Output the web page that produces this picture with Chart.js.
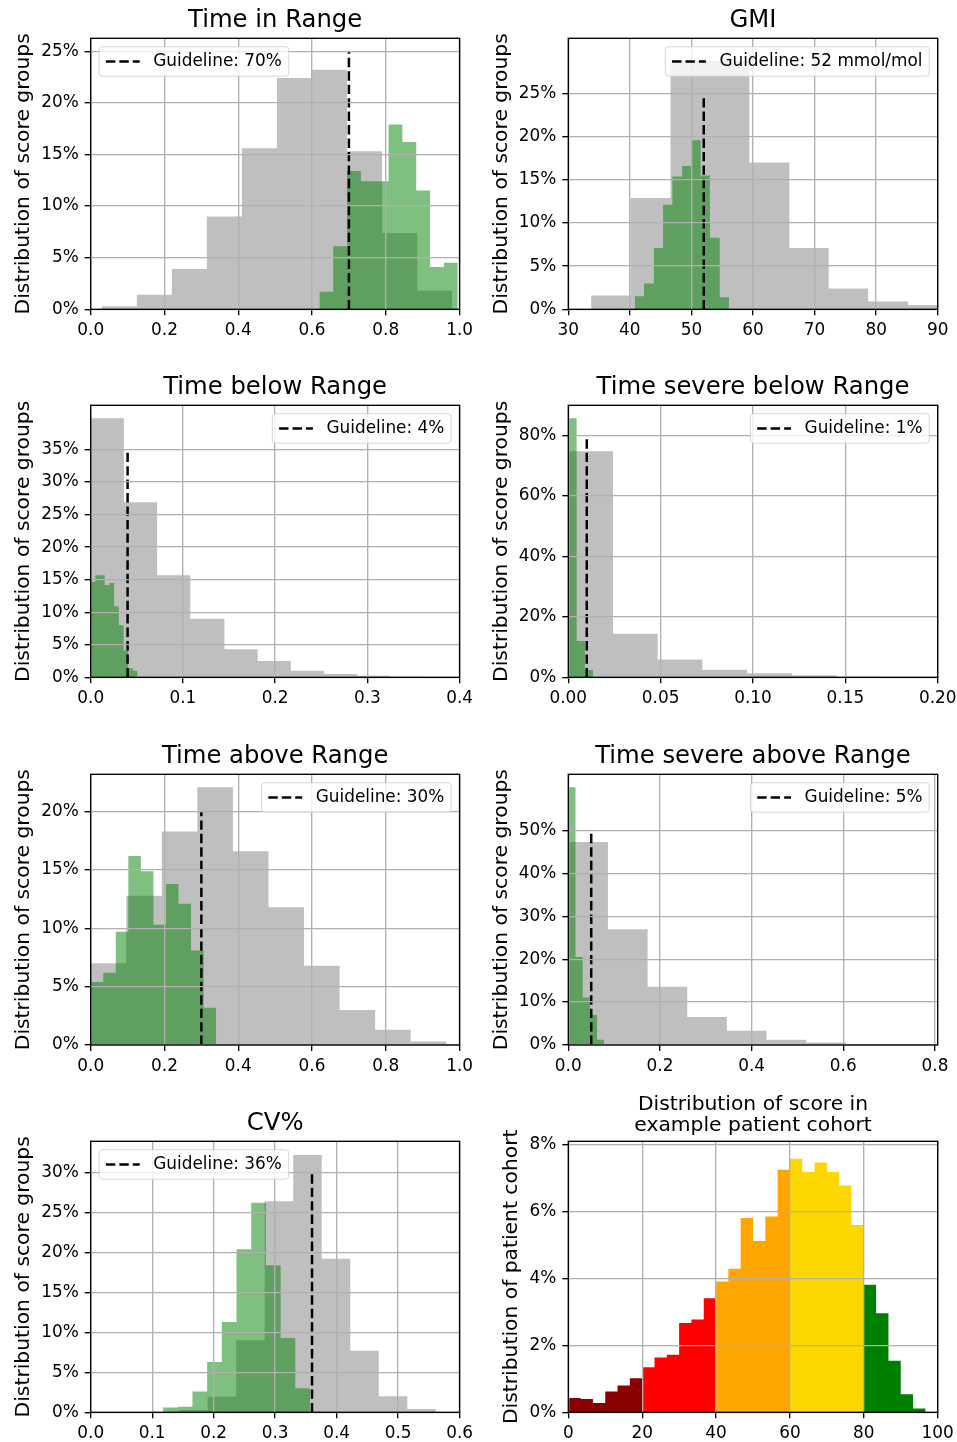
<!DOCTYPE html>
<html lang="en">
<head>
<meta charset="UTF-8">
<title>Score group distributions</title>
<script src="https://cdn.jsdelivr.net/npm/chart.js"></script>
<style>
    body {
        margin: 0;
        background-color: #ffffff;
    }
    #page {
        position: relative;
        width: 957px;
        height: 1442px;
        overflow: hidden;
    }
    #page canvas {
        position: absolute;
    }
</style>
</head>
<body>
<div id="page">
    <canvas id="tir" width="478" height="367" style="left:0;top:0"></canvas>
    <canvas id="gmi" width="490" height="367" style="left:478px;top:0"></canvas>
    <canvas id="tbr" width="478" height="368" style="left:0;top:367px"></canvas>
    <canvas id="tsbr" width="490" height="368" style="left:478px;top:367px"></canvas>
    <canvas id="tar" width="478" height="367" style="left:0;top:735px"></canvas>
    <canvas id="tsar" width="490" height="367" style="left:478px;top:735px"></canvas>
    <canvas id="cv" width="478" height="340" style="left:0;top:1102px"></canvas>
    <canvas id="score" width="490" height="360" style="left:478px;top:1082px"></canvas>
</div>

<script>
    // values are % of score groups (gray = all groups, green = groups meeting the guideline)

    // Time in Range
    const tirGrayEdges = [0.03, 0.125, 0.22, 0.315, 0.41, 0.505, 0.60, 0.695, 0.79, 0.885, 0.98];
    const tirGray = [0.3, 1.4, 3.9, 9.0, 15.6, 22.4, 23.2, 15.3, 7.4, 1.8];
    const tirGreenEdges = [0.62, 0.6575, 0.695, 0.7325, 0.77, 0.8075, 0.845, 0.8825, 0.92, 0.9575, 0.995];
    const tirGreen = [1.7, 6.1, 13.4, 12.4, 12.4, 17.9, 16.2, 11.5, 4.1, 4.5];
    const tirGuide = [0.70, 25];
    const tirXTicks = [0, 0.2, 0.4, 0.6, 0.8, 1.0];
    const tirYTicks = [0, 5, 10, 15, 20, 25];

    // GMI
    const gmiGrayEdges = [33.7, 40.1, 46.6, 53.0, 59.4, 65.9, 72.3, 78.7, 85.2, 91.6];
    const gmiGray = [1.6, 12.9, 28.8, 28.8, 17.0, 7.1, 2.4, 0.9, 0.5];
    const gmiGreenEdges = [40.8, 42.3, 43.9, 45.4, 46.9, 48.5, 50.0, 51.5, 53.0, 54.6, 56.1];
    const gmiGreen = [1.5, 3.0, 7.1, 12.1, 15.4, 16.6, 19.6, 15.5, 8.3, 1.4];
    const gmiGuide = [52, 25];
    const gmiXTicks = [30, 40, 50, 60, 70, 80, 90];
    const gmiYTicks = [0, 5, 10, 15, 20, 25];

    // Time below Range
    const tbrGrayEdges = [0, 0.036, 0.072, 0.108, 0.145, 0.181, 0.217, 0.253, 0.289, 0.325, 0.3615];
    const tbrGray = [39.8, 26.9, 15.7, 9.0, 4.3, 2.5, 1.0, 0.5, 0.25, 0.1];
    const tbrGreenEdges = [0, 0.0051, 0.0102, 0.0152, 0.0203, 0.0254, 0.0305, 0.0356, 0.0406, 0.0457, 0.0508];
    const tbrGreen = [14.7, 15.7, 15.7, 14.2, 14.5, 10.9, 8.0, 4.1, 1.4, 1.0];
    const tbrGuide = [0.04, 35];
    const tbrXTicks = [0, 0.1, 0.2, 0.3, 0.4];
    const tbrYTicks = [0, 5, 10, 15, 20, 25, 30, 35];

    // Time severe below Range
    const tsbrGrayEdges = [0, 0.0242, 0.0484, 0.0726, 0.0968, 0.121, 0.1452, 0.1694, 0.1936, 0.2178, 0.242];
    const tsbrGray = [74.7, 14.4, 5.9, 2.5, 1.3, 0.7, 0.2, 0.1, 0.05, 0.05];
    const tsbrGreenEdges = [0, 0.0045, 0.009, 0.0135];
    const tsbrGreen = [85.6, 12.0, 2.4];
    const tsbrGuide = [0.01, 80];
    const tsbrXTicks = [0, 0.05, 0.10, 0.15, 0.20];
    const tsbrYTicks = [0, 20, 40, 60, 80];

    // Time above Range
    const tarGrayEdges = [0, 0.0964, 0.1928, 0.2892, 0.3856, 0.482, 0.5784, 0.6748, 0.7712, 0.8676, 0.964];
    const tarGray = [7.0, 12.8, 18.3, 22.1, 16.6, 11.8, 6.8, 3.0, 1.3, 0.3];
    const tarGreenEdges = [0, 0.034, 0.068, 0.102, 0.136, 0.17, 0.204, 0.238, 0.272, 0.306, 0.34];
    const tarGreen = [5.4, 6.2, 9.7, 16.2, 14.9, 10.3, 13.8, 12.1, 8.1, 3.2];
    const tarGuide = [0.30, 20];
    const tarXTicks = [0, 0.2, 0.4, 0.6, 0.8, 1.0];
    const tarYTicks = [0, 5, 10, 15, 20];

    // Time severe above Range
    const tsarGrayEdges = [0, 0.0865, 0.173, 0.2595, 0.346, 0.4325, 0.519, 0.6055, 0.692, 0.7785];
    const tsarGray = [47.3, 27.0, 13.6, 6.5, 3.3, 1.2, 0.6, 0.2, 0.1];
    const tsarGreenEdges = [0, 0.0157, 0.0314, 0.0471, 0.0628, 0.0785];
    const tsarGreen = [60.1, 20.5, 11.1, 7.0, 1.2];
    const tsarGuide = [0.05, 49.5];
    const tsarXTicks = [0, 0.2, 0.4, 0.6, 0.8];
    const tsarYTicks = [0, 10, 20, 30, 40, 50];

    // CV%
    const cvGrayEdges = [0.1438, 0.1902, 0.2366, 0.283, 0.3294, 0.3758, 0.4222, 0.4686, 0.515, 0.5614];
    const cvGray = [0.3, 1.95, 9.0, 26.4, 32.2, 19.2, 7.7, 2.0, 0.4];
    const cvGreenEdges = [0.1177, 0.1416, 0.1655, 0.1894, 0.2133, 0.2372, 0.2611, 0.285, 0.3089, 0.3328, 0.3567];
    const cvGreen = [0.6, 0.7, 2.6, 6.3, 11.3, 20.4, 26.2, 18.4, 9.3, 3.0];
    const cvGuide = [0.36, 30];
    const cvXTicks = [0, 0.1, 0.2, 0.3, 0.4, 0.5, 0.6];
    const cvYTicks = [0, 5, 10, 15, 20, 25, 30];

    // example patient cohort (% of patients per score bin)
    const scoreEdges = [0, 3.33, 6.67, 10, 13.33, 16.67, 20, 23.33, 26.67, 30, 33.33, 36.67, 40, 43.33, 46.67, 50,
                        53.33, 56.67, 60, 63.33, 66.67, 70, 73.33, 76.67, 80, 83.33, 86.67, 90, 93.33, 96.67, 100];
    const scoreValues = [0.43, 0.40, 0.28, 0.62, 0.80, 1.02, 1.35, 1.64, 1.72, 2.67, 2.77, 3.41, 3.91, 4.29, 5.81,
                         5.12, 5.85, 7.25, 7.58, 7.18, 7.47, 7.18, 6.78, 5.60, 3.81, 2.96, 1.54, 0.54, 0.11, 0];
    const scoreBands = [0, 20, 40, 60, 80, 100];
    const scoreBandColors = ['#8b0000', '#ff0000', '#ffa500', '#ffd700', '#008000'];
    const scoreXTicks = [0, 20, 40, 60, 80, 100];
    const scoreYTicks = [0, 2, 4, 6, 8];

    const GRAY = 'rgba(128,128,128,0.5)';
    const GREEN = 'rgba(0,128,0,0.5)';
    const TICK_PX = 16.9;
    const LABEL_PX = 20.3;

    Chart.defaults.font.family = "'DejaVu Sans', sans-serif";
    Chart.defaults.color = '#000';

    // spines, rotated y label and the guideline legend box
    const frameAndLegend = {
        id: 'frameAndLegend',
        afterDraw(chart, args, opts) {
            const ctx = chart.ctx;
            const a = chart.chartArea;
            ctx.save();
            ctx.strokeStyle = '#000';
            ctx.lineWidth = 1.35;
            ctx.strokeRect(a.left, a.top, a.right - a.left, a.bottom - a.top);

            ctx.save();
            ctx.translate(opts.ylabelX, (a.top + a.bottom) / 2);
            ctx.rotate(-Math.PI / 2);
            ctx.font = LABEL_PX + "px 'DejaVu Sans'";
            ctx.fillStyle = '#000';
            ctx.textAlign = 'center';
            ctx.textBaseline = 'middle';
            ctx.fillText(opts.ylabel, 0, 0);
            ctx.restore();

            if (opts.text) {
                const fs = TICK_PX;
                ctx.font = fs + "px 'DejaVu Sans'";
                const pad = 0.4 * fs, handle = 2 * fs, gap = 0.8 * fs, margin = 0.5 * fs;
                const w = pad + handle + gap + ctx.measureText(opts.text).width + pad;
                const h = 29.4;
                const x = opts.corner === 'left' ? a.left + margin : a.right - margin - w;
                const y = a.top + margin;
                ctx.beginPath();
                if (ctx.roundRect) ctx.roundRect(x, y, w, h, 3); else ctx.rect(x, y, w, h);
                ctx.fillStyle = 'rgba(255,255,255,0.8)';
                ctx.fill();
                ctx.strokeStyle = 'rgba(204,204,204,0.8)';
                ctx.lineWidth = 1;
                ctx.stroke();
                const cy = y + h / 2;
                ctx.setLineDash([9.4, 4.05]);
                ctx.strokeStyle = '#000';
                ctx.lineWidth = 2.5;
                ctx.beginPath();
                ctx.moveTo(x + pad, cy);
                ctx.lineTo(x + pad + handle, cy);
                ctx.stroke();
                ctx.setLineDash([]);
                ctx.fillStyle = '#000';
                ctx.textAlign = 'left';
                ctx.textBaseline = 'middle';
                ctx.fillText(opts.text, x + pad + handle + gap, cy);
            }
            ctx.restore();
        }
    };

    function stepPoints(edges, heights) {
        const pts = heights.map((h, i) => ({x: edges[i], y: h}));
        pts.push({x: edges[heights.length], y: heights[heights.length - 1]});
        return pts;
    }

    function histSet(edges, heights, color, order) {
        return {
            data: stepPoints(edges, heights),
            stepped: 'before',
            fill: 'origin',
            backgroundColor: color,
            borderColor: 'rgba(0,0,0,0)',
            borderWidth: 0,
            pointRadius: 0,
            order: order
        };
    }

    function guideSet(guide) {
        return {
            data: [{x: guide[0], y: 0}, {x: guide[0], y: guide[1]}],
            borderColor: '#000',
            borderWidth: 2.5,
            borderDash: [9.4, 4.05],
            pointRadius: 0,
            fill: false,
            order: 0
        };
    }

    function drawPanel(id, p) {
        const canvas = document.getElementById(id);
        const W = canvas.width, H = canvas.height;
        const a = p.area; // left, top, right, bottom inside the canvas
        const lines = Array.isArray(p.title) ? p.title.length : 1;
        const tSize = p.titleSize || 24.3;
        const tLine = p.titleLine || tSize * 1.2;
        const tGap = p.titleGap || 2.6;
        const grid = {color: '#b0b0b0', lineWidth: 1.35, z: 1, drawTicks: true, tickLength: 6, tickColor: '#000', tickWidth: 1.35};

        new Chart(canvas, {
            type: 'line',
            data: {datasets: p.datasets},
            plugins: [frameAndLegend],
            options: {
                responsive: false,
                animation: false,
                devicePixelRatio: 1,
                events: [],
                layout: {padding: {left: 0, top: 0, right: W - a[2], bottom: 0}},
                plugins: {
                    legend: {display: false},
                    tooltip: {enabled: false},
                    title: {
                        display: true,
                        fullSize: false,
                        text: p.title,
                        color: '#000',
                        font: {size: tSize, weight: 'normal', lineHeight: tLine / tSize},
                        padding: {top: a[1] - lines * tLine - tGap, bottom: tGap}
                    },
                    frameAndLegend: {text: p.legend, corner: p.corner, ylabel: p.ylabel, ylabelX: p.ylabelX || 23.7}
                },
                scales: {
                    x: {
                        type: 'linear',
                        position: 'bottom',
                        min: p.xRange[0],
                        max: p.xRange[1],
                        afterFit: s => { s.height = H - a[3]; },
                        afterBuildTicks: s => { s.ticks = p.xTicks.map(v => ({value: v})); },
                        grid: grid,
                        border: {display: false},
                        ticks: {
                            autoSkip: false, maxRotation: 0, padding: 5,
                            font: {size: TICK_PX},
                            callback: v => v.toFixed(p.xDec)
                        }
                    },
                    y: {
                        type: 'linear',
                        min: 0,
                        max: p.yMax,
                        afterFit: s => { s.width = a[0]; },
                        afterBuildTicks: s => { s.ticks = p.yTicks.map(v => ({value: v})); },
                        grid: grid,
                        border: {display: false},
                        ticks: {
                            autoSkip: false, padding: 6,
                            font: {size: TICK_PX},
                            callback: v => v + '%'
                        }
                    }
                }
            }
        });
    }

    const groupsLabel = 'Distribution of score groups';

    drawPanel('tir', {
        title: 'Time in Range', area: [90.7, 38.3, 460.7, 309.3],
        xRange: [0, 1], xTicks: tirXTicks, xDec: 1, yMax: 26.25, yTicks: tirYTicks,
        legend: 'Guideline: 70%', corner: 'left', ylabel: groupsLabel,
        datasets: [histSet(tirGrayEdges, tirGray, GRAY, 3), histSet(tirGreenEdges, tirGreen, GREEN, 2), guideSet(tirGuide)]
    });

    drawPanel('gmi', {
        title: 'GMI', area: [90.3, 38.3, 459.7, 309.3],
        xRange: [30, 90], xTicks: gmiXTicks, xDec: 0, yMax: 31.4, yTicks: gmiYTicks,
        legend: 'Guideline: 52 mmol/mol', corner: 'right', ylabel: groupsLabel,
        datasets: [histSet(gmiGrayEdges, gmiGray, GRAY, 3), histSet(gmiGreenEdges, gmiGreen, GREEN, 2), guideSet(gmiGuide)]
    });

    drawPanel('tbr', {
        title: 'Time below Range', area: [90.7, 38.3, 460.7, 310.3],
        xRange: [0, 0.4], xTicks: tbrXTicks, xDec: 1, yMax: 41.8, yTicks: tbrYTicks,
        legend: 'Guideline: 4%', corner: 'right', ylabel: groupsLabel,
        datasets: [histSet(tbrGrayEdges, tbrGray, GRAY, 3), histSet(tbrGreenEdges, tbrGreen, GREEN, 2), guideSet(tbrGuide)]
    });

    drawPanel('tsbr', {
        title: 'Time severe below Range', area: [90.3, 38.3, 459.7, 310.3],
        xRange: [0, 0.2], xTicks: tsbrXTicks, xDec: 2, yMax: 89.9, yTicks: tsbrYTicks,
        legend: 'Guideline: 1%', corner: 'right', ylabel: groupsLabel,
        datasets: [histSet(tsbrGrayEdges, tsbrGray, GRAY, 3), histSet(tsbrGreenEdges, tsbrGreen, GREEN, 2), guideSet(tsbrGuide)]
    });

    drawPanel('tar', {
        title: 'Time above Range', area: [90.7, 39.3, 460.7, 310],
        xRange: [0, 1], xTicks: tarXTicks, xDec: 1, yMax: 23.2, yTicks: tarYTicks,
        legend: 'Guideline: 30%', corner: 'right', ylabel: groupsLabel,
        datasets: [histSet(tarGrayEdges, tarGray, GRAY, 3), histSet(tarGreenEdges, tarGreen, GREEN, 2), guideSet(tarGuide)]
    });

    drawPanel('tsar', {
        title: 'Time severe above Range', area: [90.3, 39.3, 459.7, 310],
        xRange: [0, 0.806], xTicks: tsarXTicks, xDec: 1, yMax: 63.1, yTicks: tsarYTicks,
        legend: 'Guideline: 5%', corner: 'right', ylabel: groupsLabel,
        datasets: [histSet(tsarGrayEdges, tsarGray, GRAY, 3), histSet(tsarGreenEdges, tsarGreen, GREEN, 2), guideSet(tsarGuide)]
    });

    drawPanel('cv', {
        title: 'CV%', area: [90.7, 39.3, 460.7, 310.3],
        xRange: [0, 0.6], xTicks: cvXTicks, xDec: 1, yMax: 33.9, yTicks: cvYTicks,
        legend: 'Guideline: 36%', corner: 'left', ylabel: groupsLabel,
        datasets: [histSet(cvGrayEdges, cvGray, GRAY, 3), histSet(cvGreenEdges, cvGreen, GREEN, 2), guideSet(cvGuide)]
    });

    // cohort histogram, one coloured series per 20-point score band
    const scoreSets = scoreBandColors.map((color, k) => {
        const lo = scoreBands[k], hi = scoreBands[k + 1];
        const idx = scoreValues.map((v, i) => i).filter(i => scoreEdges[i] >= lo - 1e-6 && scoreEdges[i + 1] <= hi + 1e-6);
        const edges = idx.map(i => scoreEdges[i]).concat([scoreEdges[idx[idx.length - 1] + 1]]);
        return histSet(edges, idx.map(i => scoreValues[i]), color, k + 1);
    });

    drawPanel('score', {
        title: ['Distribution of score in', 'example patient cohort'], titleSize: 20.3, titleLine: 21, titleGap: 4.8,
        area: [90.3, 59.3, 459.7, 330.3],
        xRange: [0, 100], xTicks: scoreXTicks, xDec: 0, yMax: 8.1, yTicks: scoreYTicks,
        legend: null, ylabel: 'Distribution of patient cohort', ylabelX: 34.2,
        datasets: scoreSets
    });
</script>
</body>
</html>
